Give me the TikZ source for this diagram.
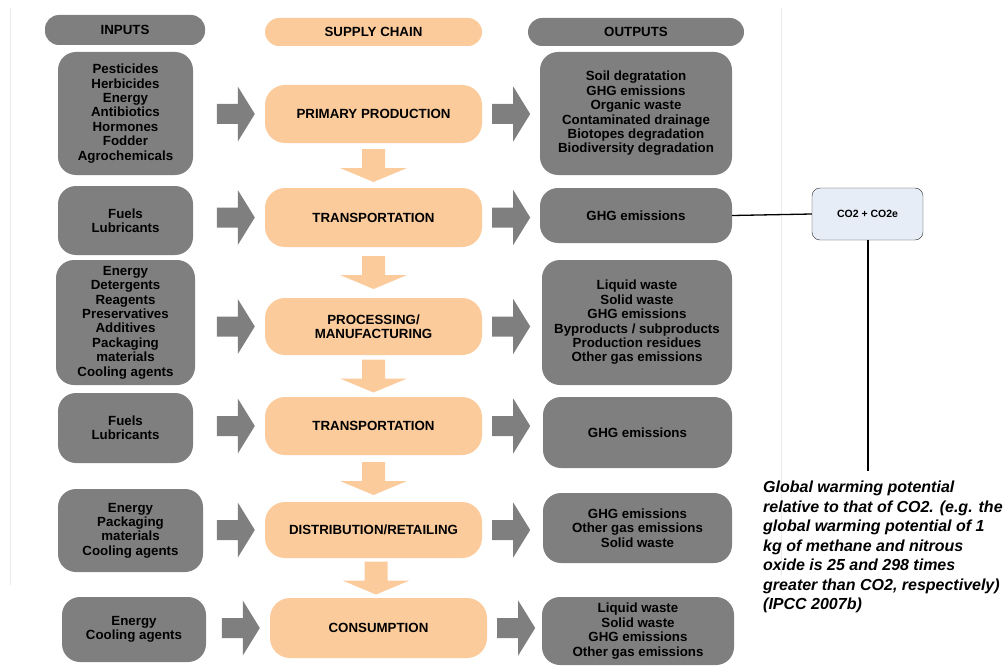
\documentclass[tikz,border=0pt]{standalone}
\usepackage{fontspec}
\setmainfont{Liberation Sans}
\usetikzlibrary{calc}
\definecolor{boxgray}{HTML}{7F7F7F}
\definecolor{chainorange}{HTML}{FCCB9B}
\definecolor{co2blue}{HTML}{E6EDF7}
\definecolor{framegray}{HTML}{EBEBEB}

\begin{document}
\begin{tikzpicture}[x=1pt, y=-1pt,
            every node/.append style = {font=\fontsize{13.3}{14.4}\selectfont\bfseries, align=center, inner sep=0pt},
            graybox/.style = {fill=boxgray, rounded corners=18pt},
            chainbox/.style = {fill=chainorange, rounded corners=20pt, minimum width=217pt},
            pill/.style = {rounded corners=14pt, minimum height=28pt},
            rarrow/.pic = {\fill[boxgray] (-19,-10) -- (2,-10) -- (2,-27.5) -- (19,0) -- (2,27.5) -- (2,10) -- (-19,10) -- cycle;},
            darrow/.pic = {\fill[chainorange] (-11.5,-16.5) -- (11.5,-16.5) -- (11.5,2.5) -- (33.5,2.5) -- (0,16.5) -- (-33.5,2.5) -- (-11.5,2.5) -- cycle;}
                        ]
            \useasboundingbox (0,0) rectangle (1003,666);
            % frame
            \draw[framegray, line width=1pt] (10.5,8) -- (10.5,585);
            \draw[framegray, line width=1pt] (781,8) -- (781,575);
            % headers
            \node[pill, fill=boxgray, minimum width=160pt, minimum height=30pt] (hin) at (125,30) {INPUTS};
            \node[pill, fill=chainorange, minimum width=217pt] (hsc) at (373.5,32) {SUPPLY CHAIN};
            \node[pill, fill=boxgray, minimum width=216pt] (hout) at (636,32) {OUTPUTS};
            % inputs
            \node[graybox, minimum width=135pt, minimum height=123pt] (in1) at (125.5,113.5)
                {Pesticides\\Herbicides\\Energy\\Antibiotics\\Hormones\\Fodder\\Agrochemicals};
            \node[graybox, minimum width=135pt, minimum height=69pt] (in2) at (125.5,220.5) {Fuels\\Lubricants};
            \node[graybox, minimum width=139pt, minimum height=125pt] (in3) at (125.5,322.5)
                {Energy\\Detergents\\Reagents\\Preservatives\\Additives\\Packaging\\materials\\Cooling agents};
            \node[graybox, minimum width=135pt, minimum height=70pt] (in4) at (125.5,428) {Fuels\\Lubricants};
            \node[graybox, minimum width=145pt, minimum height=83pt] (in5) at (130.5,530.5)
                {Energy\\Packaging\\materials\\Cooling agents};
            \node[graybox, minimum width=144pt, minimum height=65pt] (in6) at (134,629.5) {Energy\\Cooling agents};
            % supply chain
            \node[chainbox, minimum height=58pt] (sc1) at (373.5,114) {PRIMARY PRODUCTION};
            \node[chainbox, minimum height=59pt] (sc2) at (373.5,217.5) {TRANSPORTATION};
            \node[chainbox, minimum height=57pt] (sc3) at (373.5,326.5) {PROCESSING/\\MANUFACTURING};
            \node[chainbox, minimum height=58pt] (sc4) at (373.5,426) {TRANSPORTATION};
            \node[chainbox, minimum height=56pt] (sc5) at (373.5,530) {DISTRIBUTION/RETAILING};
            \node[chainbox, minimum height=60pt] (sc6) at (378.5,628) {CONSUMPTION};
            % outputs
            \node[graybox, minimum width=192pt, minimum height=123pt] (out1) at (636,113.5)
                {Soil degratation\\GHG emissions\\Organic waste\\Contaminated drainage\\Biotopes degradation\\Biodiversity degradation};
            \node[graybox, minimum width=192pt, minimum height=55pt] (out2) at (636,215.5) {GHG emissions};
            \node[graybox, minimum width=190pt, minimum height=125pt] (out3) at (637,322.5)
                {Liquid waste\\Solid waste\\GHG emissions\\Byproducts / subproducts\\Production residues\\Other gas emissions};
            \node[graybox, minimum width=189pt, minimum height=71pt] (out4) at (637.5,432.5) {GHG emissions};
            \node[graybox, minimum width=189pt, minimum height=70pt] (out5) at (637.5,528)
                {GHG emissions\\Other gas emissions\\Solid waste};
            \node[graybox, minimum width=192pt, minimum height=68pt] (out6) at (638,631)
                {Liquid waste\\Solid waste\\GHG emissions\\Other gas emissions};
            % block arrows
            \foreach \s in {sc1,sc2,sc3,sc4,sc5,sc6} {
                \pic at ($(\s.west)+(-29,0)$) {rarrow};
                \pic at ($(\s.east)+(29,0)$) {rarrow};
            }
            \foreach \a/\b in {sc1/sc2, sc2/sc3, sc3/sc4, sc4/sc5, sc5/sc6}
                \pic at ($(\a.south)!0.5!(\b.north)$) {darrow};
            % CO2 equivalent
            \node[draw=black!85, fill=co2blue, rounded corners=8pt, minimum width=111pt, minimum height=52pt,
                  font=\fontsize{10.5}{12}\selectfont\bfseries] (co2) at (867.5,214) {CO2 + CO2e};
            \node[anchor=north west, align=left, font=\fontsize{16}{19.5}\selectfont\bfseries\itshape] (gwp) at (763,481)
                {Global warming potential\\relative to that of CO2. (e.g. the\\global warming potential of 1\\kg of methane and nitrous\\oxide is 25 and 298 times\\greater than CO2, respectively)\\(IPCC 2007b)};
            \draw[line width=1.3pt] (out2.east) -- (co2.west);
            \draw[line width=2pt] (co2.south) -- ($(co2.south |- gwp.north)+(0,-10)$);
    \end{tikzpicture}
\end{document}
